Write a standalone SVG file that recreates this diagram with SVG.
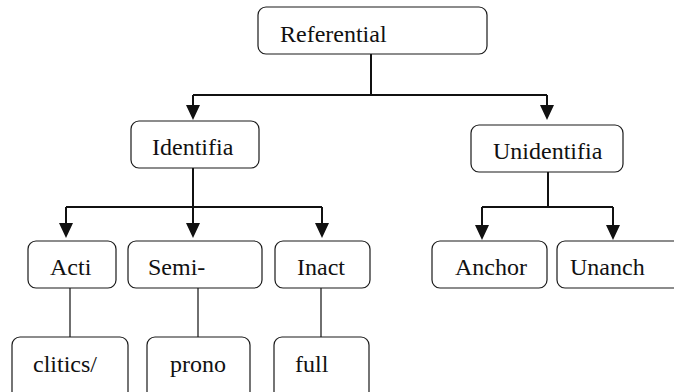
<svg xmlns="http://www.w3.org/2000/svg" width="674" height="392" viewBox="0 0 674 392">
<defs>
<style>
.box{fill:#fff;stroke:#1a1a1a;stroke-width:1.2}
.con{fill:none;stroke:#111;stroke-width:2}
.thin{fill:none;stroke:#111;stroke-width:1.2}
.head{fill:#111}
</style>
</defs>
<rect width="674" height="392" fill="#fff"/>
<g id="connectors">
<path class="con" d="M371,54 V95 M193,95 H547 M193,95 V108 M547,95 V108"/>
<path class="head" d="M186,105 L200,105 L193,120 Z M540,105 L554,105 L547,120 Z"/>
<path class="con" d="M193,168 V207 M66,207 H322 M66,207 V226 M193,207 V226 M322,207 V226"/>
<path class="head" d="M59,223 L73,223 L66,238 Z M186,223 L200,223 L193,238 Z M315,223 L329,223 L322,238 Z"/>
<path class="con" d="M548,172 V207 M482,207 H613 M482,207 V228 M613,207 V228"/>
<path class="head" d="M475,225 L489,225 L482,240 Z M606,225 L620,225 L613,240 Z"/>
<path class="thin" d="M70,288 V337 M198,288 V337 M321,288 V337"/>
</g>
<g font-family="Liberation Serif" font-size="24" fill="#111">
<g id="referential"><rect class="box" x="258" y="7" width="229" height="47" rx="8"/><text x="280" y="42">Referential</text></g>
<g id="identifia"><rect class="box" x="131" y="121" width="128" height="47" rx="8"/><text x="152" y="155">Identifia</text></g>
<g id="unidentifia"><rect class="box" x="471" y="125" width="152" height="47" rx="8"/><text x="493" y="159">Unidentifia</text></g>
<g id="acti"><rect class="box" x="28" y="241" width="88" height="47" rx="8"/><text x="50" y="275">Acti</text></g>
<g id="semi"><rect class="box" x="128" y="241" width="134" height="47" rx="8"/><text x="148" y="275">Semi-</text></g>
<g id="inact"><rect class="box" x="275" y="241" width="95" height="47" rx="8"/><text x="297" y="275">Inact</text></g>
<g id="anchor"><rect class="box" x="432" y="241" width="115" height="47" rx="8"/><text x="455" y="275">Anchor</text></g>
<g id="unanch"><rect class="box" x="557" y="241" width="130" height="47" rx="8"/><text x="570" y="275">Unanch</text></g>
<g id="clitics"><rect class="box" x="12" y="337" width="116" height="70" rx="8"/><text x="33" y="372">clitics/</text></g>
<g id="prono"><rect class="box" x="147" y="337" width="103" height="70" rx="8"/><text x="170" y="372">prono</text></g>
<g id="full"><rect class="box" x="274" y="337" width="95" height="70" rx="8"/><text x="295" y="372">full</text></g>
</g>
</svg>
